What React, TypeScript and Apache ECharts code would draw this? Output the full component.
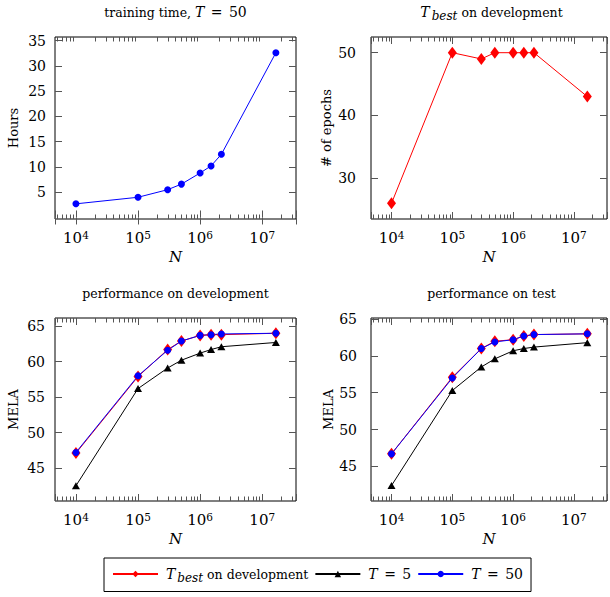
import React, { useEffect, useRef } from 'react';
import * as echarts from 'echarts';

// ---- data ----
const trainingSizes = [1e4, 1e5, 3e5, 5e5, 1e6, 1.5e6, 2.2e6, 1.66e7];
const trainingHours = [2.7, 4.0, 5.5, 6.6, 8.8, 10.2, 12.5, 32.6];
const bestEpochs = [26, 50, 49, 50, 50, 50, 50, 43];
const devTbest = [47.1, 57.9, 61.7, 62.9, 63.7, 63.8, 63.8, 64.0];
const devT5 = [42.5, 56.2, 59.1, 60.2, 61.2, 61.7, 62.1, 62.7];
const devT50 = [47.2, 58.0, 61.6, 62.9, 63.7, 63.8, 63.9, 64.0];
const testTbest = [46.7, 57.1, 61.0, 62.0, 62.2, 62.7, 62.9, 63.0];
const testT5 = [42.4, 55.3, 58.5, 59.6, 60.7, 61.0, 61.2, 61.8];
const testT50 = [46.7, 57.0, 61.0, 61.9, 62.2, 62.7, 62.9, 63.0];

const yTicksHours = [5, 10, 15, 20, 25, 30, 35];
const yTicksEpochs = [30, 40, 50];
const yTicksMela = [45, 50, 55, 60, 65];
const minorTickValues = [
  5e3, 6e3, 7e3, 8e3, 9e3,
  2e4, 3e4, 4e4, 5e4, 6e4, 7e4, 8e4, 9e4,
  2e5, 3e5, 4e5, 5e5, 6e5, 7e5, 8e5, 9e5,
  2e6, 3e6, 4e6, 5e6, 6e6, 7e6, 8e6, 9e6,
  2e7, 3e7,
];

const NAME_BEST = 'T_best on development';
const NAME_T5 = 'T = 5';
const NAME_T50 = 'T = 50';

const FONT = '"DejaVu Serif", serif';
const X_MIN = 4600;
const X_MAX = 3.5e7;

const rich: any = {
  r: { fontFamily: FONT, fontSize: 12.5, color: '#000' },
  i: { fontFamily: FONT, fontSize: 14, fontStyle: 'italic', color: '#000' },
  li: { fontFamily: FONT, fontSize: 14, fontStyle: 'italic', color: '#000', padding: [0, 0, 0, 3] },
  m: { fontFamily: FONT, fontSize: 14, color: '#000' },
  eq: { fontFamily: FONT, fontSize: 14, color: '#000', padding: [0, 2, 0, 2] },
  sub: { fontFamily: FONT, fontSize: 12, fontStyle: 'italic', color: '#000', padding: [7, 4, 0, 2] },
};

const panels = [
  {
    grid: { left: 55, top: 37, width: 241, height: 182 },
    y: [-0.3, 35.7], yTicks: yTicksHours, yName: 'Hours', nameGap: 35, labelMargin: 9,
    title: '{r|training time, }{i|T}{eq| = }{m|50}', titleY: 12,
  },
  {
    grid: { left: 371, top: 37, width: 241, height: 182 },
    y: [23.5, 52.5], yTicks: yTicksEpochs, yName: '# of epochs', nameGap: 38, labelMargin: 15,
    title: '{i|T}{sub|best}{r|on development}', titleY: 12,
  },
  {
    grid: { left: 55, top: 318, width: 241, height: 183 },
    y: [40.35, 66.15], yTicks: yTicksMela, yName: 'MELA', nameGap: 35, labelMargin: 10,
    title: '{r|performance on development}', titleY: 293,
  },
  {
    grid: { left: 371, top: 318, width: 241, height: 183 },
    y: [40.3, 65.15], yTicks: yTicksMela, yName: 'MELA', nameGap: 35, labelMargin: 14,
    title: '{r|performance on test}', titleY: 293,
  },
];

const pairs = (ys: number[]) => trainingSizes.map((x, i) => [x, ys[i]]);

const redStyle = {
  type: 'line', name: NAME_BEST, symbol: 'diamond', symbolSize: [9, 12],
  itemStyle: { color: '#ff0000' }, lineStyle: { color: '#ff0000', width: 1 },
};
const blackStyle = {
  type: 'line', name: NAME_T5, symbol: 'triangle', symbolSize: [8, 7],
  itemStyle: { color: '#000000' }, lineStyle: { color: '#000000', width: 1 },
};
const blueStyle = {
  type: 'line', name: NAME_T50, symbol: 'circle', symbolSize: 7,
  itemStyle: { color: '#0000ff' }, lineStyle: { color: '#0000ff', width: 1 },
};

function buildOption() {
  const grid: any[] = [];
  const xAxis: any[] = [];
  const yAxis: any[] = [];
  const series: any[] = [];
  const graphic: any[] = [];

  panels.forEach((p, i) => {
    grid.push({ ...p.grid, show: true, borderColor: '#000', borderWidth: 1, backgroundColor: '#fff' });
    const tickStyle = { color: '#555', width: 1 };
    xAxis.push({
      type: 'log', logBase: 10, gridIndex: i, min: X_MIN, max: X_MAX, position: 'bottom',
      axisLine: { show: false },
      axisTick: { show: true, inside: true, length: 7, lineStyle: tickStyle },
      splitLine: { show: false },
      axisLabel: {
        margin: 10,
        formatter: (v: number) => {
          const e = Math.log10(v);
          const r = Math.round(e);
          if (Math.abs(e - r) > 1e-6) return '';
          return `{b|10}{s|${r}}`;
        },
        rich: {
          b: { fontFamily: FONT, fontSize: 15, color: '#000' },
          s: { fontFamily: FONT, fontSize: 10.5, color: '#000', padding: [0, 0, 7, 0] },
        },
      },
      name: 'N', nameLocation: 'middle', nameGap: 30,
      nameTextStyle: { fontFamily: FONT, fontSize: 15, fontStyle: 'italic', color: '#000' },
    });
    xAxis.push({
      type: 'log', logBase: 10, gridIndex: i, min: X_MIN, max: X_MAX, position: 'top',
      axisLine: { show: false },
      axisTick: { show: true, inside: true, length: 7, lineStyle: tickStyle },
      splitLine: { show: false },
      axisLabel: { show: false },
    });
    yAxis.push({
      type: 'value', gridIndex: i, min: p.y[0], max: p.y[1], position: 'left',
      axisLine: { show: false },
      axisTick: { show: true, inside: true, length: 7, lineStyle: tickStyle, customValues: p.yTicks },
      splitLine: { show: false },
      axisLabel: { customValues: p.yTicks, margin: p.labelMargin, fontFamily: FONT, fontSize: 14, color: '#000' },
      name: p.yName, nameLocation: 'middle', nameGap: p.nameGap,
      nameTextStyle: { fontFamily: FONT, fontSize: 13, color: '#000' },
    });
    yAxis.push({
      type: 'value', gridIndex: i, min: p.y[0], max: p.y[1], position: 'right',
      axisLine: { show: false },
      axisTick: { show: true, inside: true, length: 7, lineStyle: tickStyle, customValues: p.yTicks },
      splitLine: { show: false },
      axisLabel: { show: false },
    });

    const yMin = p.y[0];
    series.push({
      type: 'custom', name: 'minor-' + i, xAxisIndex: 2 * i, yAxisIndex: 2 * i,
      silent: true, clip: true, z: 1,
      data: minorTickValues.filter((v) => v >= X_MIN && v <= X_MAX).map((v) => [v, yMin]),
      renderItem: (params: any, api: any) => {
        const x = Math.round(api.coord([api.value(0), yMin])[0]) + 0.5;
        const cs = params.coordSys;
        const bottom = cs.y + cs.height;
        return {
          type: 'group',
          children: [
            { type: 'line', shape: { x1: x, y1: bottom, x2: x, y2: bottom - 4.5 }, style: { stroke: '#555', lineWidth: 1 } },
            { type: 'line', shape: { x1: x, y1: cs.y, x2: x, y2: cs.y + 4.5 }, style: { stroke: '#555', lineWidth: 1 } },
          ],
        };
      },
    });

    graphic.push({
      type: 'text',
      x: p.grid.left + p.grid.width / 2,
      y: p.titleY,
      style: {
        text: p.title, rich, textAlign: 'center', align: 'center',
        textVerticalAlign: 'middle', verticalAlign: 'middle',
      },
    });
  });

  const ax = (i: number) => ({ xAxisIndex: 2 * i, yAxisIndex: 2 * i });
  series.push({ ...blueStyle, ...ax(0), data: pairs(trainingHours) });
  series.push({ ...redStyle, ...ax(1), data: pairs(bestEpochs) });
  series.push({ ...redStyle, ...ax(2), data: pairs(devTbest) });
  series.push({ ...blackStyle, ...ax(2), data: pairs(devT5) });
  series.push({ ...blueStyle, ...ax(2), data: pairs(devT50) });
  series.push({ ...redStyle, ...ax(3), data: pairs(testTbest) });
  series.push({ ...blackStyle, ...ax(3), data: pairs(testT5) });
  series.push({ ...blueStyle, ...ax(3), data: pairs(testT50) });

  const legendText: Record<string, string> = {
    [NAME_BEST]: '{li|T}{sub|best}{r|on development}',
    [NAME_T5]: '{li|T}{eq| = }{m|5}',
    [NAME_T50]: '{li|T}{eq| = }{m|50}',
  };

  return {
    animation: false,
    backgroundColor: '#fff',
    grid, xAxis, yAxis, series, graphic,
    legend: {
      left: 104, top: 558,
      data: [NAME_BEST, NAME_T5, NAME_T50],
      itemWidth: 45, itemHeight: 8, itemGap: 6,
      borderColor: '#000', borderWidth: 1, padding: [9, 8, 8, 8],
      selectedMode: false,
      formatter: (n: string) => legendText[n],
      textStyle: { fontFamily: FONT, fontSize: 13, color: '#000', rich },
    },
  };
}

export default function App() {
  const ref = useRef<HTMLDivElement>(null);
  useEffect(() => {
    document.body.style.margin = '0';
    const chart = echarts.init(ref.current!, null, { renderer: 'svg' });
    chart.setOption(buildOption() as any);
    return () => chart.dispose();
  }, []);
  return <div ref={ref} style={{ width: 610, height: 597 }} />;
}
